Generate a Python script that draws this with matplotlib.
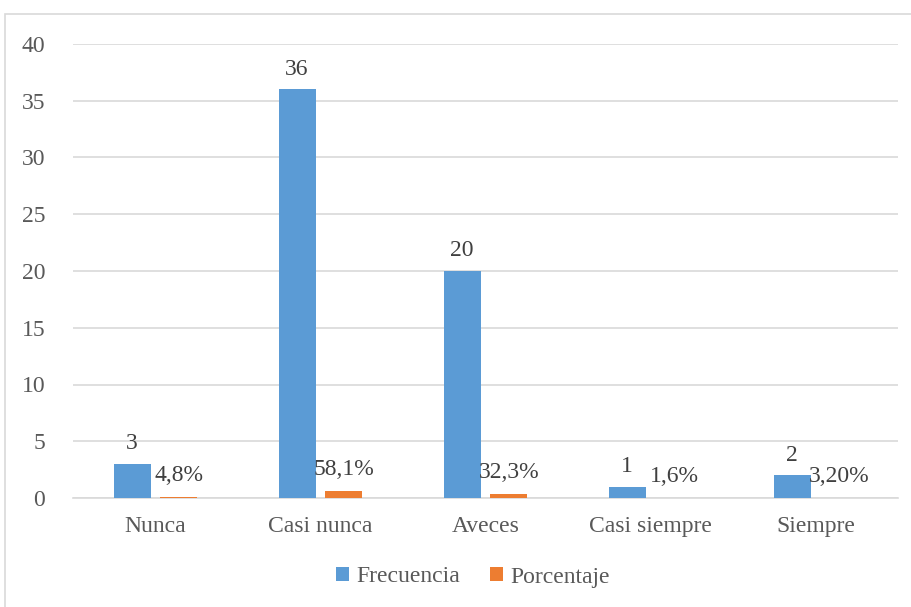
import matplotlib
matplotlib.use("Agg")
import matplotlib.pyplot as plt
import numpy as np
from matplotlib.patches import Rectangle

categories = ["Nunca", "Casi nunca", "Aveces", "Casi siempre", "Siempre"]
frecuencia = [3, 36, 20, 1, 2]
porcentaje = [0.048, 0.581, 0.323, 0.016, 0.032]
porcentaje_labels = ["4,8%", "58,1%", "32,3%", "1,6%", "3,20%"]
yticks = [0, 5, 10, 15, 20, 25, 30, 35, 40]

plt.rcParams['font.family'] = ['Liberation Serif', 'DejaVu Serif']
txt = '#595959'
fs = 17

fig = plt.figure(figsize=(9.12, 6.07), dpi=100)
fig.patches.append(Rectangle((5/912, -0.01), 1.0, 1 - 14/607 + 0.01,
                             transform=fig.transFigure, fill=False,
                             edgecolor='#d9d9d9', linewidth=1.2))
ax = fig.add_axes([73/912, 1 - 498/607, (898 - 73)/912, (498 - 44)/607])

x = np.arange(len(categories))
w = 0.224
off = 0.142
b1 = ax.bar(x - off, frecuencia, w, color='#5B9BD5', label='Frecuencia', zorder=3)
b2 = ax.bar(x + off, porcentaje, w, color='#ED7D31', label='Porcentaje', zorder=3)

for xi, v in zip(x, frecuencia):
    ax.annotate(str(v), (xi - off, v), xytext=(0, 7), textcoords='offset points',
                ha='center', va='bottom', fontsize=fs, color='#404040')
for xi, v, lab in zip(x, porcentaje, porcentaje_labels):
    ax.annotate(lab, (xi + off, v), xytext=(0, 8), textcoords='offset points',
                ha='center', va='bottom', fontsize=fs, color='#404040')

ax.set_xlim(-0.5, len(categories) - 0.5)
ax.set_ylim(0, 40)
ax.set_yticks(yticks)
ax.set_yticklabels([str(t) for t in yticks])
ax.set_xticks(x)
ax.set_xticklabels(categories)
ax.grid(axis='y', color='#d9d9d9', linewidth=1.2, zorder=0)
for s in ['top', 'right', 'left']:
    ax.spines[s].set_visible(False)
ax.spines['bottom'].set_color('#d9d9d9')
ax.spines['bottom'].set_linewidth(1.2)
ax.tick_params(axis='both', length=0, labelsize=fs, labelcolor=txt)
ax.tick_params(axis='y', pad=20)
ax.tick_params(axis='x', pad=13)

leg = fig.legend(handles=[b1, b2], loc='center', bbox_to_anchor=(473/912, 1 - 577/607),
                 ncol=2, frameon=False, fontsize=fs, handlelength=0.55, handleheight=0.55,
                 handletextpad=0.3, columnspacing=1.3)
for t in leg.get_texts():
    t.set_color(txt)

fig.savefig('out.png', dpi=100)
